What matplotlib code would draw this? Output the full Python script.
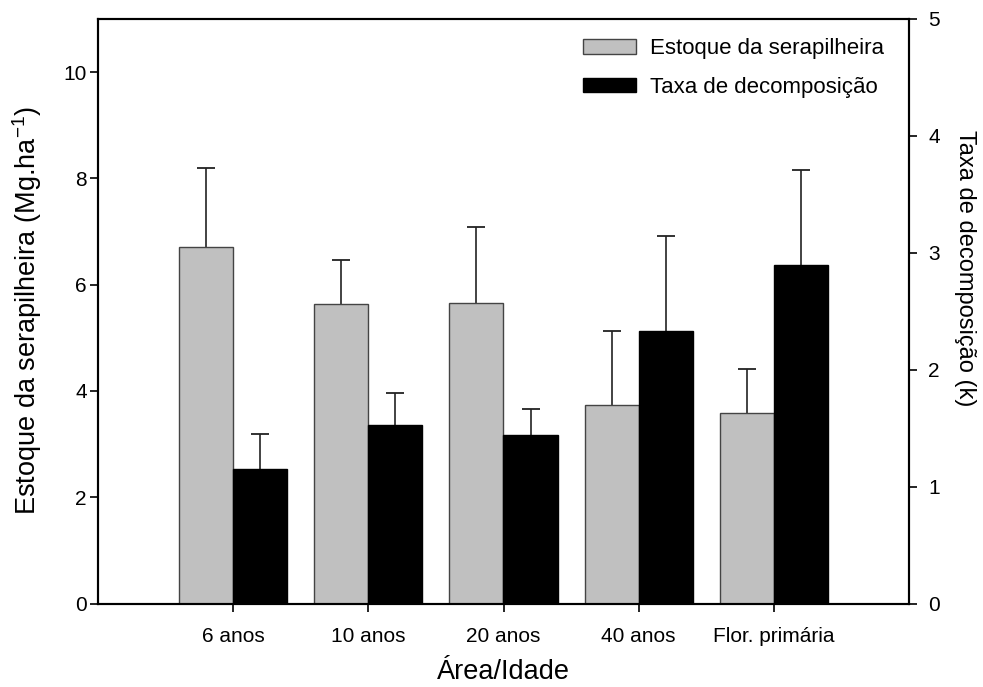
import numpy as np
import matplotlib
matplotlib.use("Agg")
import matplotlib.pyplot as plt

plt.rcParams['font.family'] = ['Liberation Sans', 'DejaVu Sans']
plt.rcParams['mathtext.default'] = 'regular'

areas = ["6 anos", "10 anos", "20 anos", "40 anos", "Flor. primária"]
estoque = [6.70, 5.63, 5.65, 3.74, 3.58]
estoque_err = [1.49, 0.83, 1.43, 1.39, 0.83]
taxa = [1.153, 1.524, 1.441, 2.334, 2.898]
taxa_err = [0.30, 0.28, 0.225, 0.81, 0.81]

x = np.arange(len(areas))
w = 0.40

fig = plt.figure(figsize=(9.83, 6.87), dpi=100)
ax = fig.add_axes([98/983, 1 - 603.5/687, 811/983, 584.5/687])
ax2 = ax.twinx()

b1 = ax.bar(x - w/2, estoque, w, color="#c0c0c0", edgecolor="#444444", linewidth=1.0, zorder=2)
b2 = ax2.bar(x + w/2, taxa, w, color="black", edgecolor="black", linewidth=1.0, zorder=2)

# barras de erro so para cima
top1 = np.array(estoque) + np.array(estoque_err)
top2 = np.array(taxa) + np.array(taxa_err)
ax.vlines(x - w/2, estoque, top1, colors="#222222", linewidth=1.2, zorder=1)
ax.plot(x - w/2, top1, linestyle="none", marker="_", markersize=13, mew=1.3, color="#222222")
ax2.vlines(x + w/2, taxa, top2, colors="#222222", linewidth=1.2, zorder=1)
ax2.plot(x + w/2, top2, linestyle="none", marker="_", markersize=13, mew=1.3, color="#222222")

ax.set_xlim(-1, 5)
ax.set_ylim(0, 11)
ax2.set_ylim(0, 5)
ax.set_yticks([0, 2, 4, 6, 8, 10])
ax2.set_yticks([0, 1, 2, 3, 4, 5])
ax.set_xticks(x)
ax.set_xticklabels(areas)

for a in (ax, ax2):
    a.tick_params(direction="out", length=6, width=1.2, labelsize=15)
    for s in a.spines.values():
        s.set_linewidth(1.5)
ax.tick_params(axis="y", pad=2)
ax.tick_params(axis="x", pad=11)
ax2.tick_params(axis="y", pad=8)

fig.text(503.5/983, 1 - 672/687, "Área/Idade", fontsize=19.5, ha="center", va="center")
fig.text(27/983, 1 - 311/687, r"Estoque da serapilheira (Mg.ha$^{-1}$)", fontsize=19.5,
         rotation=90, ha="center", va="center")
fig.text(965/983, 1 - 268/687, "Taxa de decomposição (k)", fontsize=17,
         rotation=270, ha="center", va="center")

ax.legend([b1, b2], ["Estoque da serapilheira", "Taxa de decomposição"],
          loc="upper right", bbox_to_anchor=(0.969, 0.967), frameon=False, fontsize=16,
          borderaxespad=0, borderpad=0, handlelength=2.4, handleheight=0.6,
          handletextpad=0.63, labelspacing=0.79)

fig.savefig("out.png", dpi=100)
